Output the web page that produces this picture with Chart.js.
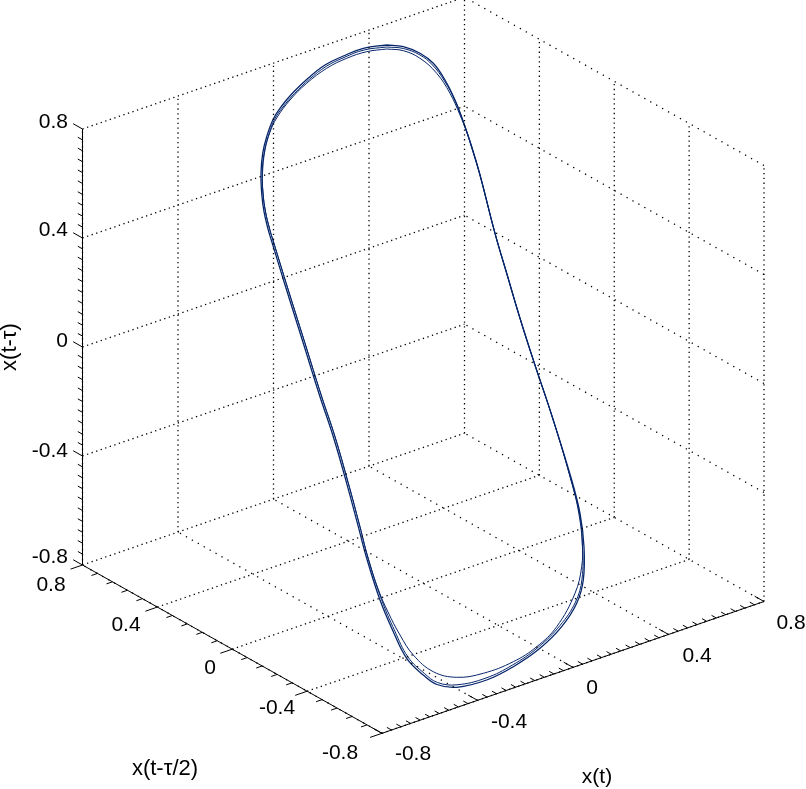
<!DOCTYPE html>
<html>
<head>
<meta charset="utf-8">
<script src="https://cdn.jsdelivr.net/npm/chart.js@4"></script>
<style>
html, body { margin: 0; padding: 0; background: #fff; }
canvas { display: block; }
</style>
</head>
<body>
<canvas id="myChart" width="806" height="789"></canvas>
<script>
// tick values shared by the three axes
const ticks = [-0.8, -0.4, 0, 0.4, 0.8];
const tickLabels = ['-0.8', '-0.4', '0', '0.4', '0.8'];

// the loop, in the view plane of the 3d box
const outerX = [386.7, 403.3, 420, 433.3, 445, 455, 463.3, 471.7, 480, 495, 506.7, 520, 533.3, 552.7, 571.7, 580, 584, 583.3, 576.7, 561.7, 540, 513.3, 486.7, 456.7, 437, 423.3, 406.7, 393.3, 380, 366.7, 358.3, 346.7, 333.3, 320, 303.3, 284.5, 271.3, 268.3, 264, 261.7, 261, 262.7, 266.7, 273.3, 281.7, 293.3, 308.3, 325, 343.3, 363.3, 386.7];
const outerY = [45, 46.7, 53.3, 63.3, 80, 100, 121.7, 146.7, 175, 233.3, 273.3, 318.3, 360, 418.3, 480, 513.3, 546.7, 580, 603.3, 626.7, 648.3, 666.7, 680, 687.3, 684.5, 675, 658.3, 631.7, 600, 558.3, 526.7, 483.3, 436.7, 396.7, 343.3, 283.3, 240, 230, 211.7, 193.3, 173.3, 153.3, 136.7, 119, 106, 92.3, 78, 65, 56, 48.3, 45];

const middleX = [386.7, 403.3, 420, 432.5, 444.5, 455, 463.3, 471.7, 480, 495, 506.7, 520, 533.3, 552.7, 571, 578.8, 582.5, 582, 575.5, 560, 538.5, 512.5, 486, 457, 437.5, 424.5, 408, 394.8, 381.5, 368, 359.8, 348.2, 334.8, 321.5, 304.8, 286, 272.8, 269.8, 265.5, 263, 262.2, 264, 268, 274.5, 283, 294.5, 309.5, 326, 344, 364, 386.7];
const middleY = [47, 48.5, 55, 65, 81, 100.5, 121.7, 146.7, 175, 233.3, 273.3, 318.3, 360, 418.3, 480, 513.3, 546.7, 579, 602, 625.5, 647, 665, 678, 684.8, 682.5, 673.5, 657, 631, 599.5, 558, 526.2, 483, 436.2, 396.2, 342.8, 282.8, 239.7, 229.7, 211.5, 193, 173.3, 153.6, 137.2, 119.5, 107, 93.5, 79.2, 66.5, 57.5, 50, 47];

const innerX = [386.7, 403.3, 420, 436.7, 450, 460, 467, 473, 480, 495, 506.7, 520, 533.3, 552.7, 571, 580, 582.3, 581.7, 575, 556.7, 536.7, 513.3, 483.3, 456.7, 433.3, 413.3, 400, 388, 378.5, 368, 359.8, 348.2, 334.8, 321.5, 304.8, 286, 272.8, 269.8, 265.5, 263, 262.5, 265, 270, 276.7, 290, 306.7, 326.7, 346.7, 366.7, 386.7];
const innerY = [49, 50.7, 58.3, 73.3, 93.3, 115, 133, 152, 175, 233.3, 273.3, 318.3, 360, 418.3, 480, 516.7, 543.3, 566.7, 593.3, 626.7, 646.7, 661.7, 673.3, 677.3, 671.7, 655, 635, 612, 590, 557.5, 526, 482.5, 436, 396, 342.5, 282.5, 239.5, 229.5, 212, 193, 173.3, 150, 132, 118, 100, 83.3, 68.3, 58.3, 51.7, 49];

const xTitle = 'x(t)';
const yTitle = 'x(t-\u03c4/2)';
const zTitle = 'x(t-\u03c4)';

// where the box sits on the page: floor corners and wall height
const cornerA = [82.5, 565];    // x=-0.8, y=0.8
const cornerB = [382, 733.3];   // x=-0.8, y=-0.8
const cornerC = [764, 601.5];   // x=0.8, y=-0.8
const wallHeight = 436;

function project(x, y, z) {
    const a = (x + 0.8) / 1.6;
    const b = (0.8 - y) / 1.6;
    const c = (z + 0.8) / 1.6;
    return {
        x: cornerA[0] + a * (cornerC[0] - cornerB[0]) + b * (cornerB[0] - cornerA[0]),
        y: cornerA[1] + a * (cornerC[1] - cornerB[1]) + b * (cornerB[1] - cornerA[1]) - c * wallHeight
    };
}

function segments(list) {
    const out = [];
    for (const s of list) {
        out.push(project(s[0], s[1], s[2]), project(s[3], s[4], s[5]), { x: NaN, y: NaN });
    }
    return out;
}

// dotted grid on the floor and the two back walls
// the lines running along the y axis have wider dots in the picture
const gridSegs = [];
const gridSegsWide = [];
for (const t of ticks) {
    gridSegsWide.push([t, -0.8, -0.8, t, 0.8, -0.8]);
    gridSegs.push([-0.8, t, -0.8, 0.8, t, -0.8]);
    gridSegs.push([t, 0.8, -0.8, t, 0.8, 0.8]);
    gridSegs.push([-0.8, 0.8, t, 0.8, 0.8, t]);
    gridSegs.push([0.8, t, -0.8, 0.8, t, 0.8]);
    gridSegsWide.push([0.8, -0.8, t, 0.8, 0.8, t]);
}

// axis lines and their tick marks
const axisSegs = [
    [-0.8, 0.8, -0.8, -0.8, 0.8, 0.8],
    [-0.8, 0.8, -0.8, -0.8, -0.8, -0.8],
    [-0.8, -0.8, -0.8, 0.8, -0.8, -0.8]
];
for (let i = 0; i <= 40; i++) {
    const v = -0.8 + i * 0.04;
    const len = i % 10 == 0 ? 0.05 : 0.025;
    axisSegs.push([-0.8, 0.8, v, -0.8, 0.8 + len, v]);
    axisSegs.push([v, -0.8, -0.8, v, -0.8 + len, -0.8]);
    if (i % 2 == 0) {
        axisSegs.push([-0.8, v, -0.8, -0.8 - len, v, -0.8]);
    }
}

function zipPoints(xs, ys) {
    return xs.map((v, i) => ({ x: v, y: ys[i] }));
}

const tickText = {
    id: 'tickText',
    afterDraw(chart) {
        const ctx = chart.ctx;
        const sx = chart.scales.x;
        const sy = chart.scales.y;
        const put = (txt, px, py, align) => {
            ctx.textAlign = align || 'center';
            ctx.fillText(txt, sx.getPixelForValue(px), sy.getPixelForValue(py));
        };
        ctx.save();
        ctx.fillStyle = '#000';
        ctx.textBaseline = 'middle';
        ctx.font = '21px "Liberation Sans"';
        const zPos = [557, 451, 341, 230, 122];
        const yPos = [[340, 753], [277, 708], [210, 668], [126, 625.5], [51, 585]];
        const xPos = [[413, 754], [509, 722], [592, 688], [697, 656], [791, 623]];
        tickLabels.forEach((lab, i) => {
            put(lab, 68, zPos[i], 'right');
            put(lab, yPos[i][0], yPos[i][1]);
            put(lab, xPos[i][0], xPos[i][1]);
        });
        put(xTitle, 597, 777);
        ctx.font = '22px "Liberation Sans"';
        put(yTitle, 165, 769);
        ctx.translate(sx.getPixelForValue(10), sy.getPixelForValue(347));
        ctx.rotate(-Math.PI / 2);
        ctx.textAlign = 'center';
        ctx.fillText(zTitle, 0, 0);
        ctx.restore();
    }
};

const ctx = document.getElementById('myChart').getContext('2d');
const myChart = new Chart(ctx, {
    type: 'scatter',
    data: {
        datasets: [{
            label: 'grid',
            data: segments(gridSegs),
            showLine: true,
            borderColor: '#000',
            borderWidth: 1.3,
            borderDash: [1.3, 3.5],
            pointRadius: 0
        }, {
            label: 'grid wide',
            data: segments(gridSegsWide),
            showLine: true,
            borderColor: '#000',
            borderWidth: 1.3,
            borderDash: [1.3, 5.5],
            pointRadius: 0
        }, {
            label: 'axes',
            data: segments(axisSegs),
            showLine: true,
            borderColor: '#000',
            borderWidth: 1,
            pointRadius: 0
        }, {
            label: 'outer',
            data: zipPoints(outerX, outerY),
            showLine: true,
            borderColor: '#06266b',
            borderWidth: 1.3,
            tension: 0.4,
            pointRadius: 0
        }, {
            label: 'middle',
            data: zipPoints(middleX, middleY),
            showLine: true,
            borderColor: '#06266b',
            borderWidth: 1,
            tension: 0.4,
            pointRadius: 0
        }, {
            label: 'inner',
            data: zipPoints(innerX, innerY),
            showLine: true,
            borderColor: '#06266b',
            borderWidth: 1,
            tension: 0.4,
            pointRadius: 0
        }]
    },
    options: {
        responsive: false,
        animation: false,
        layout: { padding: 0 },
        plugins: {
            legend: { display: false },
            tooltip: { enabled: false }
        },
        scales: {
            x: { type: 'linear', display: false, min: 0, max: 806 },
            y: { type: 'linear', display: false, min: 0, max: 789, reverse: true }
        }
    },
    plugins: [tickText]
});
</script>
</body>
</html>
